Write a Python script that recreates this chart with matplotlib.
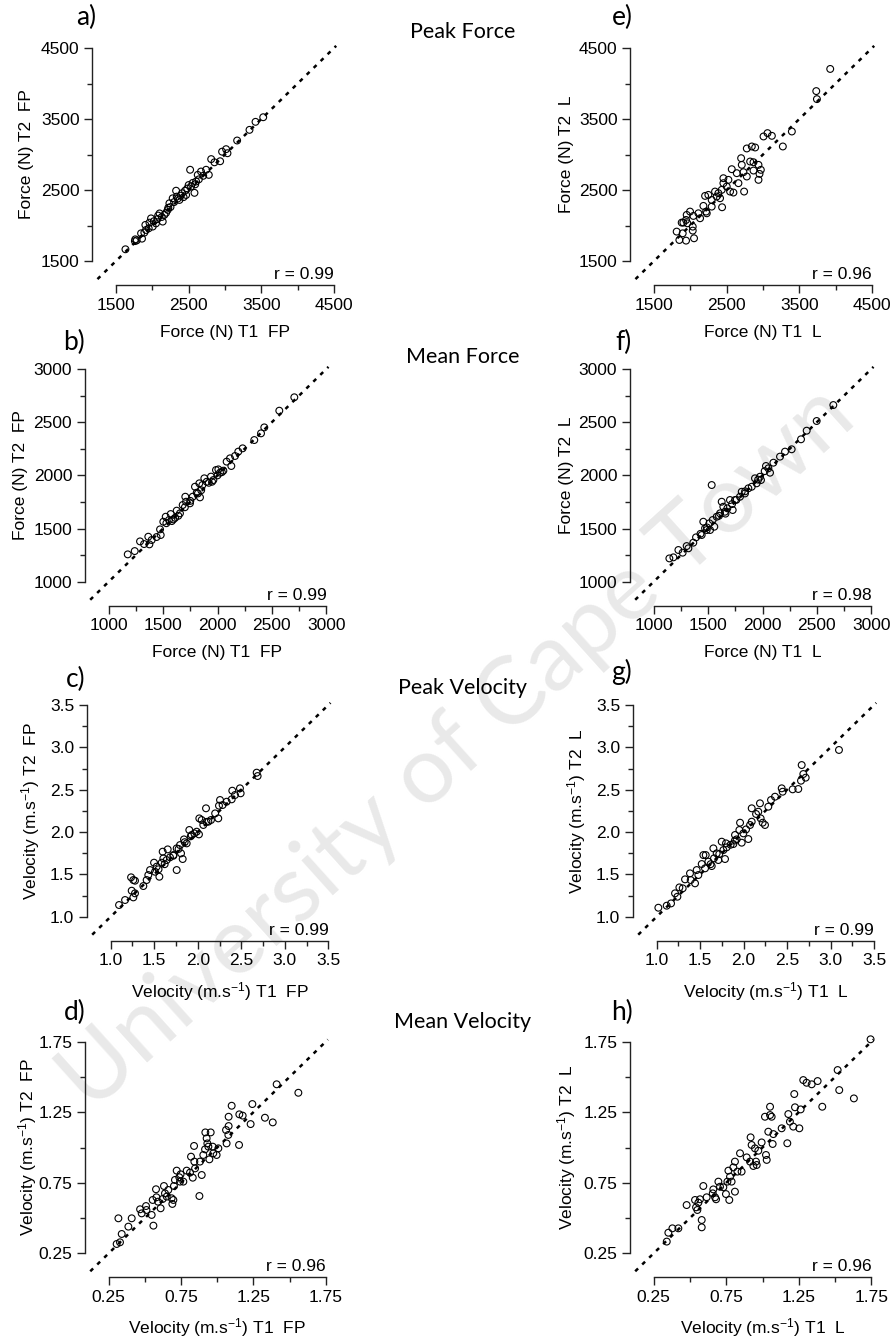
import matplotlib
matplotlib.use("Agg")
import matplotlib.pyplot as plt
from matplotlib.ticker import MultipleLocator

plt.rcParams['font.family'] = ['Liberation Sans', 'DejaVu Sans']
plt.rcParams['mathtext.default'] = 'regular'

# ---------------- data ----------------
# a) Peak Force, force plate
a_t1 = [1630, 1765, 1785, 1760, 1858, 1845, 1913, 1904, 1960, 1982, 2005, 2050, 2020, 2070, 2100,
        2143, 2166, 2130, 2190, 2212, 2235, 2250, 2280, 2300, 2327, 2336, 2373, 2390, 2410, 2450,
        2465, 2430, 2500, 2520, 2533, 2555, 2580, 2602, 2625, 2640, 2670, 2700, 2740, 2777, 2810,
        2855, 2933, 2960, 3034, 3015, 3167, 3337, 3420, 3526, 1890, 1950, 2080, 2220, 2350, 2480, 2590]
a_t2 = [1665, 1805, 1790, 1780, 1815, 1890, 1937, 2008, 2040, 2100, 1985, 2030, 2060, 2090, 2170,
        2055, 2150, 2120, 2180, 2220, 2313, 2260, 2383, 2330, 2490, 2407, 2360, 2420, 2455, 2490,
        2430, 2400, 2570, 2785, 2550, 2600, 2460, 2620, 2713, 2650, 2760, 2700, 2785, 2713, 2935,
        2890, 2905, 3040, 3018, 3075, 3197, 3347, 3460, 3525, 1900, 1960, 2140, 2250, 2380, 2520, 2580]

# e) Peak Force, linear encoder
e_t1 = [3925, 3733, 3742, 3397, 3273, 3007, 3062, 3122, 2777, 2846, 2892, 2699, 2708, 2823, 2869,
        2938, 2970, 2952, 2938, 2869, 2570, 2639, 2731, 2777, 2662, 2740, 2455, 2524, 2455, 2501,
        2547, 2593, 2432, 2386, 2409, 2437, 2340, 2248, 2203, 2294, 2294, 2180, 2217, 2111, 2134,
        2042, 1996, 1950, 1941, 1904, 1959, 2033, 2033, 2051, 1941, 1812, 1849, 1895, 1881, 2226, 2363]
e_t2 = [4205, 3893, 3780, 3324, 3113, 3254, 3301, 3263, 3085, 3113, 3099, 2948, 2854, 2901, 2891,
        2854, 2784, 2727, 2643, 2774, 2793, 2737, 2751, 2690, 2596, 2478, 2666, 2643, 2596, 2549,
        2478, 2464, 2502, 2455, 2384, 2257, 2478, 2431, 2417, 2360, 2266, 2276, 2196, 2172, 2102,
        2135, 2196, 2149, 2078, 2041, 2031, 1984, 1928, 1820, 1787, 1914, 1796, 1890, 2041, 2172, 2408]

# b) Mean Force, force plate
b_t1 = [1175, 1239, 1288, 1325, 1364, 1374, 1395, 1472, 1478, 1502, 1524, 1554, 1570, 1594, 1625,
        1655, 1680, 1704, 1711, 1747, 1772, 1793, 1809, 1833, 1839, 1861, 1879, 1901, 1940, 1962,
        1986, 2008, 2023, 2054, 2084, 2115, 2127, 2161, 2191, 2231, 2338, 2400, 2430, 2568, 2706,
        1610, 1580, 1640, 1700, 1750, 1820, 1850, 1920, 1950, 2000, 2040, 1440, 1530]
b_t2 = [1257, 1288, 1379, 1354, 1423, 1351, 1392, 1492, 1439, 1564, 1611, 1580, 1636, 1586, 1668,
        1643, 1721, 1799, 1752, 1737, 1799, 1893, 1837, 1925, 1793, 1909, 1972, 1940, 1988, 1956,
        2050, 2056, 2025, 2044, 2129, 2160, 2088, 2182, 2223, 2254, 2332, 2395, 2451, 2608, 2734,
        1600, 1570, 1620, 1700, 1760, 1830, 1860, 1930, 1940, 2000, 2030, 1420, 1550]

# f) Mean Force, linear encoder
f_t1 = [1144, 1181, 1227, 1266, 1303, 1319, 1364, 1389, 1441, 1456, 1472, 1487, 1512, 1518, 1542,
        1557, 1579, 1610, 1625, 1640, 1655, 1677, 1701, 1726, 1747, 1533, 1793, 1809, 1839, 1870,
        1901, 1931, 1946, 1977, 1986, 2032, 2054, 2069, 2100, 2161, 2207, 2268, 2354, 2406, 2498,
        2651, 1490, 1600, 1660, 1720, 1760, 1840, 1960, 2020, 1430]
f_t2 = [1219, 1229, 1298, 1273, 1335, 1314, 1367, 1417, 1439, 1564, 1502, 1486, 1549, 1486, 1580,
        1517, 1611, 1643, 1752, 1705, 1658, 1690, 1768, 1674, 1768, 1909, 1799, 1846, 1830, 1878,
        1893, 1972, 1925, 1987, 1956, 2088, 2066, 2025, 2119, 2176, 2223, 2245, 2339, 2420, 2511,
        2661, 1510, 1620, 1640, 1730, 1770, 1850, 1960, 2040, 1450]

# c) Peak Velocity, force plate
c_t1 = [1.096, 1.165, 1.241, 1.260, 1.279, 1.234, 1.260, 1.279, 1.375, 1.413, 1.432, 1.452, 1.498,
        1.509, 1.528, 1.559, 1.586, 1.605, 1.597, 1.643, 1.655, 1.681, 1.720, 1.758, 1.758, 1.796,
        1.808, 1.827, 1.842, 1.873, 1.903, 1.930, 1.961, 1.988, 2.014, 2.018, 2.045, 2.064, 2.095,
        2.122, 2.152, 2.236, 2.244, 2.256, 2.286, 2.332, 2.390, 2.397, 2.428, 2.485, 2.493, 2.677,
        2.688, 1.72, 1.78, 1.85, 1.92, 2.10, 2.20, 1.55, 1.62]
c_t2 = [1.138, 1.197, 1.307, 1.228, 1.276, 1.465, 1.433, 1.425, 1.362, 1.433, 1.492, 1.551, 1.638,
        1.531, 1.591, 1.472, 1.638, 1.689, 1.768, 1.669, 1.795, 1.701, 1.728, 1.551, 1.807, 1.846,
        1.748, 1.681, 1.913, 1.866, 2.024, 1.965, 1.984, 2.004, 1.972, 2.161, 2.142, 2.083, 2.280,
        2.122, 2.142, 2.161, 2.311, 2.378, 2.319, 2.358, 2.386, 2.488, 2.437, 2.516, 2.457, 2.701,
        2.661, 1.72, 1.80, 1.88, 1.95, 2.12, 2.22, 1.56, 1.62]

# g) Peak Velocity, linear encoder
g_t1 = [1.019, 1.115, 1.165, 1.211, 1.238, 1.261, 1.299, 1.326, 1.383, 1.391, 1.441, 1.460, 1.479,
        1.518, 1.537, 1.564, 1.556, 1.594, 1.633, 1.652, 1.659, 1.690, 1.709, 1.748, 1.767, 1.786,
        1.797, 1.805, 1.882, 1.901, 1.920, 1.951, 1.959, 1.978, 1.997, 2.028, 2.054, 2.074, 2.093,
        2.093, 2.143, 2.169, 2.188, 2.196, 2.219, 2.246, 2.284, 2.315, 2.361, 2.438, 2.449, 2.564,
        2.629, 2.660, 2.668, 2.687, 2.714, 3.097, 1.62, 1.72, 1.85, 1.90]
g_t2 = [1.106, 1.130, 1.157, 1.276, 1.236, 1.346, 1.335, 1.441, 1.512, 1.433, 1.394, 1.551, 1.492,
        1.622, 1.728, 1.728, 1.571, 1.650, 1.598, 1.807, 1.689, 1.748, 1.669, 1.886, 1.787, 1.681,
        1.866, 1.819, 1.858, 1.965, 1.913, 2.024, 2.110, 1.874, 1.984, 2.031, 1.917, 2.083, 2.122,
        2.280, 2.213, 2.240, 2.339, 2.161, 2.110, 2.083, 2.299, 2.378, 2.417, 2.516, 2.476, 2.504,
        2.508, 2.606, 2.791, 2.685, 2.642, 2.969, 1.62, 1.74, 1.85, 1.90]

# d) Mean Velocity, force plate
d_t1 = [0.305, 0.328, 0.317, 0.340, 0.386, 0.409, 0.467, 0.478, 0.508, 0.511, 0.547, 0.559, 0.554,
        0.577, 0.580, 0.591, 0.609, 0.623, 0.632, 0.639, 0.651, 0.662, 0.685, 0.690, 0.697, 0.701,
        0.708, 0.720, 0.738, 0.743, 0.747, 0.766, 0.789, 0.812, 0.819, 0.831, 0.840, 0.842, 0.847,
        0.877, 0.881, 0.893, 0.904, 0.916, 0.918, 0.927, 0.932, 0.939, 0.946, 0.955, 0.969, 0.973,
        0.996, 1.008, 1.061, 1.065, 1.077, 1.079, 1.079, 1.100, 1.151, 1.153, 1.176, 1.231, 1.243,
        1.330, 1.384, 1.411, 1.561]
d_t2 = [0.316, 0.328, 0.498, 0.387, 0.439, 0.498, 0.562, 0.533, 0.585, 0.557, 0.522, 0.446, 0.628,
        0.704, 0.647, 0.616, 0.569, 0.635, 0.727, 0.675, 0.652, 0.699, 0.640, 0.600, 0.628, 0.727,
        0.770, 0.836, 0.789, 0.758, 0.810, 0.758, 0.836, 0.822, 0.935, 0.786, 1.011, 0.900, 0.852,
        0.656, 0.900, 0.805, 0.947, 0.987, 1.107, 1.065, 1.029, 1.006, 0.916, 1.107, 1.006, 0.959,
        0.947, 0.994, 1.124, 1.029, 1.089, 1.152, 1.218, 1.296, 1.018, 1.235, 1.226, 1.166, 1.308,
        1.211, 1.178, 1.448, 1.388]

# h) Mean Velocity, linear encoder
h_t1 = [0.340, 0.351, 0.379, 0.420, 0.477, 0.535, 0.542, 0.551, 0.558, 0.569, 0.581, 0.581, 0.592,
        0.615, 0.657, 0.661, 0.673, 0.680, 0.696, 0.707, 0.730, 0.748, 0.758, 0.765, 0.771, 0.776,
        0.787, 0.799, 0.810, 0.810, 0.827, 0.845, 0.856, 0.891, 0.914, 0.918, 0.925, 0.937, 0.948,
        0.955, 0.960, 0.971, 0.994, 1.017, 1.024, 1.029, 1.040, 1.052, 1.052, 1.063, 1.070, 1.075,
        1.132, 1.171, 1.178, 1.189, 1.212, 1.219, 1.224, 1.254, 1.263, 1.281, 1.304, 1.339, 1.380,
        1.412, 1.518, 1.529, 1.630, 1.745]
h_t2 = [0.333, 0.396, 0.427, 0.427, 0.592, 0.628, 0.576, 0.557, 0.609, 0.633, 0.486, 0.434, 0.727,
        0.647, 0.675, 0.703, 0.647, 0.633, 0.758, 0.722, 0.718, 0.670, 0.758, 0.836, 0.628, 0.793,
        0.758, 0.859, 0.687, 0.900, 0.829, 0.959, 0.829, 0.930, 0.900, 1.072, 1.018, 0.869, 0.994,
        0.900, 0.876, 0.977, 1.036, 1.218, 0.947, 0.912, 1.112, 1.230, 1.289, 1.218, 1.025, 1.095,
        1.136, 1.030, 1.237, 1.183, 1.148, 1.379, 1.285, 1.136, 1.270, 1.478, 1.459, 1.448, 1.471,
        1.289, 1.549, 1.407, 1.348, 1.767]

r_values = {'a': '0.99', 'b': '0.99', 'c': '0.99', 'd': '0.96',
            'e': '0.96', 'f': '0.98', 'g': '0.99', 'h': '0.96'}
row_titles = ['Peak Force', 'Mean Force', 'Peak Velocity', 'Mean Velocity']

force_ticks = (1500, 4500, 1000)
mforce_ticks = (1000, 3000, 500)
pvel_ticks = (1.0, 3.5, 0.5)
mvel_ticks = (0.25, 1.75, 0.5)

vel_x = 'Velocity (m.s$^{-1}$) T1  '
vel_y = 'Velocity (m.s$^{-1}$) T2  '
panels = [
    # key, x, y, ticks, xlabel, ylabel, tickfmt
    ('a', a_t1, a_t2, force_ticks, 'Force (N) T1  FP', 'Force (N) T2  FP', '{:.0f}'),
    ('b', b_t1, b_t2, mforce_ticks, 'Force (N) T1  FP', 'Force (N) T2  FP', '{:.0f}'),
    ('c', c_t1, c_t2, pvel_ticks, vel_x + 'FP', vel_y + 'FP', '{:.1f}'),
    ('d', d_t1, d_t2, mvel_ticks, vel_x + 'FP', vel_y + 'FP', '{:.2f}'),
    ('e', e_t1, e_t2, force_ticks, 'Force (N) T1  L', 'Force (N) T2  L', '{:.0f}'),
    ('f', f_t1, f_t2, mforce_ticks, 'Force (N) T1  L', 'Force (N) T2  L', '{:.0f}'),
    ('g', g_t1, g_t2, pvel_ticks, vel_x + 'L', vel_y + 'L', '{:.1f}'),
    ('h', h_t1, h_t2, mvel_ticks, vel_x + 'L', vel_y + 'L', '{:.2f}'),
]

# ---------------- layout (pixels) ----------------
W, H = 893, 1340
rects = {  # x0, x1, y0(top), y1(bottom)
    'a': (116, 334, 48, 261), 'e': (654, 872, 48, 261),
    'b': (108.7, 326.3, 369, 581.7), 'f': (653.7, 871.3, 369, 581.7),
    'c': (110.7, 328.3, 705, 916.7), 'g': (656.7, 874, 705, 916.7),
    'd': (108.7, 325.7, 1041.7, 1253.3), 'h': (653.7, 871.3, 1041.7, 1253.3),
}
xlabel_y = {'a': 332, 'e': 332, 'b': 652, 'f': 652, 'c': 992, 'g': 992, 'd': 1328, 'h': 1328}
ylabel_x = {'a': 27, 'b': 21, 'c': 31, 'd': 28, 'e': 567, 'f': 567, 'g': 577, 'h': 567}
plabel_xy = {'a': (86, 17), 'b': (74, 342), 'c': (76, 679), 'd': (75, 1012),
             'e': (622, 17), 'f': (623, 342), 'g': (622, 672), 'h': (622, 1012)}
title_y = [32, 357, 688, 1022]

fig = plt.figure(figsize=(W / 100, H / 100), dpi=100)
fig.patch.set_facecolor('white')

calib = ['Lato', 'DejaVu Sans']

# watermark
fig.text(458 / W, 1 - 748 / H, 'University of Cape Town', rotation=42, fontsize=68,
         color='#e9e9e9', ha='center', va='center', family=calib, zorder=-5,
         rotation_mode='anchor')

offset_pt = 24 * 72 / 100
for key, xs, ys, (lo, hi, step), xl, yl, fmt in panels:
    x0, x1, y0, y1 = rects[key]
    ax = fig.add_axes([x0 / W, 1 - y1 / H, (x1 - x0) / W, (y1 - y0) / H])
    ax.patch.set_alpha(0)
    rng = hi - lo
    ax.set_xlim(lo, hi)
    ax.set_ylim(lo, hi)
    ax.plot([lo - 0.085 * rng, hi + 0.01 * rng], [lo - 0.085 * rng, hi + 0.01 * rng],
            color='black', lw=1.8, dashes=(1.6, 2.3), clip_on=False, zorder=1)
    ax.scatter(xs, ys, s=24, facecolors='none', edgecolors='black', linewidths=0.8,
               clip_on=False, zorder=2)
    for sp in ['top', 'right']:
        ax.spines[sp].set_visible(False)
    for sp in ['left', 'bottom']:
        ax.spines[sp].set_position(('outward', offset_pt))
        ax.spines[sp].set_linewidth(1.0)
        ax.spines[sp].set_color('#222222')
    ticks = []
    v = lo
    while v <= hi + 1e-9:
        ticks.append(v)
        v += step
    ax.set_xticks(ticks)
    ax.set_yticks(ticks)
    ax.set_xticklabels([fmt.format(t) for t in ticks])
    ax.set_yticklabels([fmt.format(t) for t in ticks])
    ax.xaxis.set_minor_locator(MultipleLocator(step / 2))
    ax.yaxis.set_minor_locator(MultipleLocator(step / 2))
    ax.tick_params(which='major', length=6, width=1.0, labelsize=12.5, color='#222222', pad=3)
    ax.tick_params(which='minor', length=3.5, width=1.0, color='#222222')
    ax.annotate('r = ' + r_values[key], xy=(1, 0), xycoords='axes fraction',
                xytext=(0, -13), textcoords='offset points', ha='right', va='baseline',
                fontsize=12.5)
    fig.text((x0 + x1) / 2 / W, 1 - xlabel_y[key] / H, xl, ha='center', va='center', fontsize=12.5)
    fig.text(ylabel_x[key] / W, 1 - (y0 + y1) / 2 / H, yl, ha='center', va='center',
             rotation=90, fontsize=12.5)
    px, py = plabel_xy[key]
    fig.text(px / W, 1 - py / H, key + ')', ha='center', va='center', fontsize=19, family=calib)

for t, ty in zip(row_titles, title_y):
    fig.text(463 / W, 1 - ty / H, t, ha='center', va='center', fontsize=15.5, family=calib)

fig.savefig('out.png', dpi=100)
